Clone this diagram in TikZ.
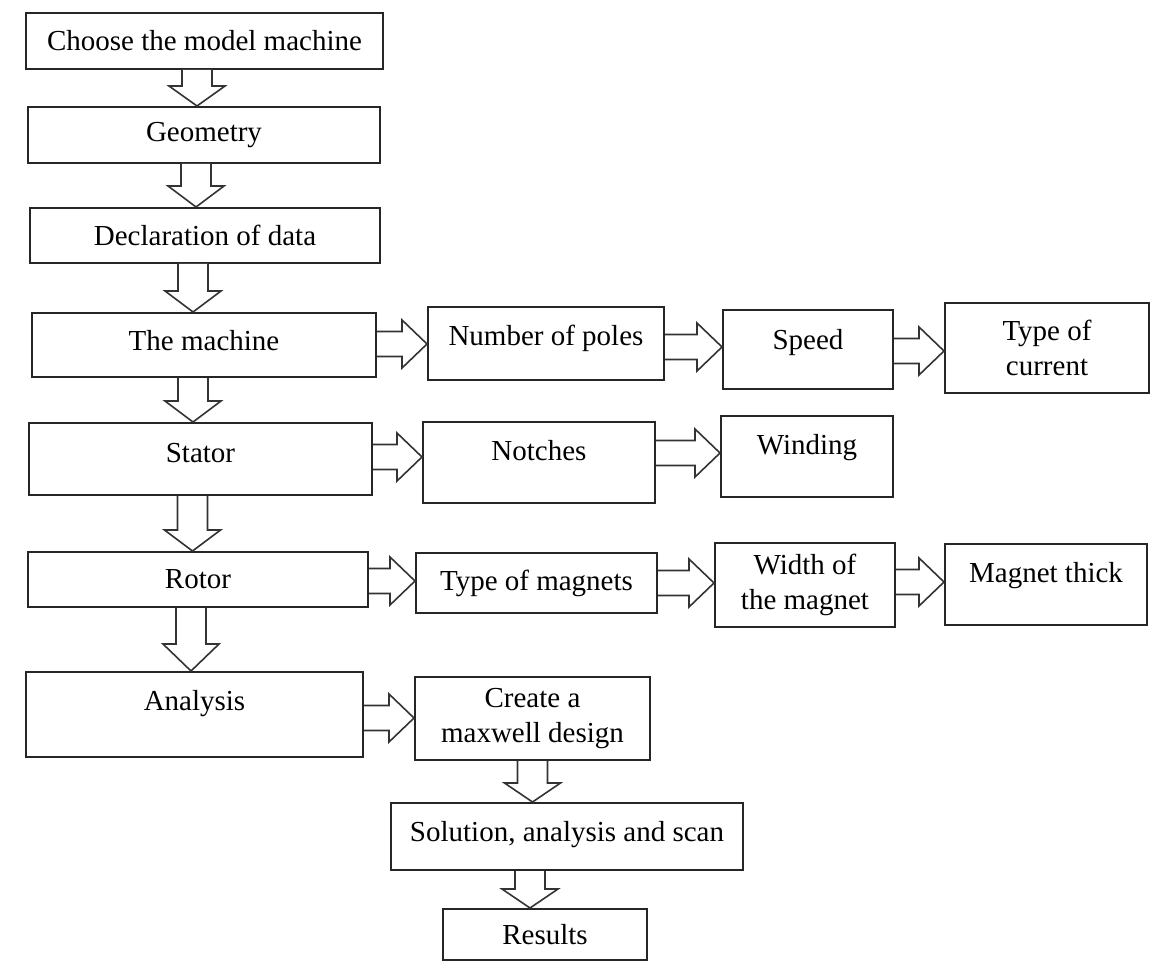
\documentclass[tikz,border=0pt]{standalone}
\usepackage{fontspec}
\setmainfont{Liberation Serif}
\usetikzlibrary{calc}
% hollow block arrows between two named boxes
\newcommand{\downflow}[4][0]{%
  \coordinate (s) at ($(#2.south)+(#1,0)$);
  \coordinate (e) at (s |- #3.north);
  \draw[flowarrow] ($(s)+(-15,0)$) -- ($(e)+(-15,-#4)$) -- ($(e)+(-28,-#4)$) -- (e)
    -- ($(e)+(28,-#4)$) -- ($(e)+(15,-#4)$) -- ($(s)+(15,0)$);
}
\newcommand{\rightflow}[3][0]{%
  \coordinate (s) at ($(#2.east)+(0,#1)$);
  \coordinate (e) at (s -| #3.west);
  \draw[flowarrow] ($(s)+(0,-12.5)$) -- ($(e)+(-25,-12.5)$) -- ($(e)+(-25,-24)$) -- (e)
    -- ($(e)+(-25,24)$) -- ($(e)+(-25,12.5)$) -- ($(s)+(0,12.5)$);
}

\begin{document}
\begin{tikzpicture}[
        x=1pt, y=-1pt,
        % box with black border, text in Times-like font
        box/.style={
            draw=black!85,
            line width=2pt,
            fill=white,
            align=center,
            inner sep=0pt,
            font=\fontsize{29}{35}\selectfont
        },
        % push the text towards the top of the box
        textup/.style={text height=20pt, text depth=#1},
        % white block arrow
        flowarrow/.style={
            draw=black!80,
            line width=1.6pt,
            fill=white,
            line join=miter
        }
    ]
    \useasboundingbox (0,0) rectangle (1161,968);

    % --- MAIN COLUMN ---
    \node[box, minimum width=357, minimum height=56] (choose) at (204.5,41) {Choose the model machine};
    \node[box, minimum width=352, minimum height=56] (geom) at (204,135) {Geometry};
    \node[box, minimum width=350, minimum height=55] (decl) at (205,235.5) {Declaration of data};
    \node[box, minimum width=344, minimum height=64, textup=10pt] (machine) at (204,345) {The machine};
    \node[box, minimum width=343, minimum height=72, textup=14pt] (stator) at (200.5,459) {Stator};
    \node[box, minimum width=340, minimum height=55] (rotor) at (198,579.5) {Rotor};
    \node[box, minimum width=337, minimum height=85, textup=28pt] (analysis) at (194.5,714.5) {Analysis};

    % --- MACHINE ROW ---
    \node[box, minimum width=236, minimum height=73, textup=16pt] (poles) at (546,343.5) {Number of poles};
    \node[box, minimum width=170, minimum height=79, textup=20pt] (speed) at (808,349.5) {Speed};
    \node[box, minimum width=204, minimum height=90] (current) at (1047,348) {Type of\\current};

    % --- STATOR ROW ---
    \node[box, minimum width=232, minimum height=81, textup=24pt] (notches) at (539,462.5) {Notches};
    \node[box, minimum width=172, minimum height=81, textup=24pt] (winding) at (807,456.5) {Winding};

    % --- ROTOR ROW ---
    \node[box, minimum width=241, minimum height=60] (magtype) at (536.5,583) {Type of magnets};
    \node[box, minimum width=180, minimum height=84] (magwidth) at (805,585) {Width of\\the magnet};
    \node[box, minimum width=202, minimum height=81, textup=24pt] (magthick) at (1046,584.5) {Magnet thick};

    % --- ANALYSIS BRANCH ---
    \node[box, minimum width=235, minimum height=83] (create) at (532.5,718.5) {Create a\\maxwell design};
    \node[box, minimum width=352, minimum height=67, textup=10pt] (solution) at (567,836.5) {Solution, analysis and scan};
    \node[box, minimum width=204, minimum height=51] (results) at (545,934.5) {Results};

    % --- ARROWS DOWN ---
    \downflow[-7.5]{choose}{geom}{20}
    \downflow[-8]{geom}{decl}{21}
    \downflow[-12]{decl}{machine}{21}
    \downflow[-11]{machine}{stator}{21}
    \downflow[-8]{stator}{rotor}{21}
    \downflow[-7]{rotor}{analysis}{27}
    \downflow{create}{solution}{19}
    \downflow[-37]{solution}{results}{19}

    % --- ARROWS RIGHT ---
    \rightflow[-1]{machine}{poles}
    \rightflow[3.5]{poles}{speed}
    \rightflow[1.5]{speed}{current}
    \rightflow[-2]{stator}{notches}
    \rightflow[-9.5]{notches}{winding}
    \rightflow[1.5]{rotor}{magtype}
    \rightflow{magtype}{magwidth}
    \rightflow[-3]{magwidth}{magthick}
    \rightflow[3.5]{analysis}{create}

\end{tikzpicture}
\end{document}
